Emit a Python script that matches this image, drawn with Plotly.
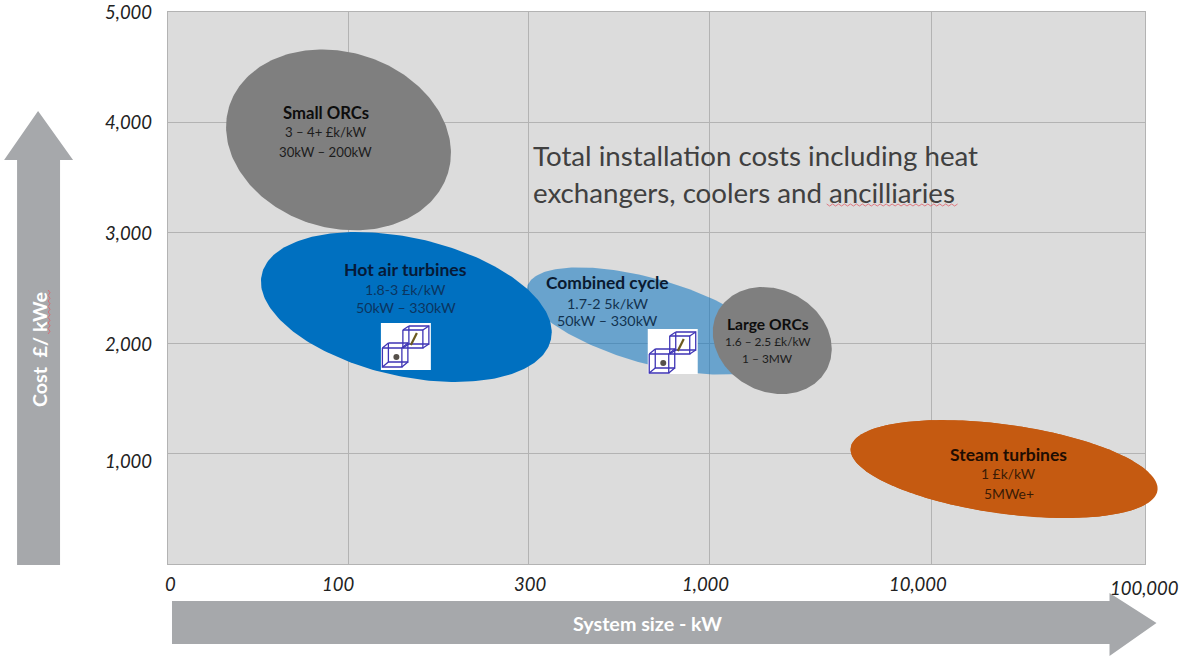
import numpy as np
import plotly.graph_objects as go

# ---- data ----
x_tick_labels = ["0", "100", "300", "1,000", "10,000", "100,000"]
x_tick_pos = [0, 1, 2, 3, 4.23, 5.41]          # hand-spaced, non-linear size scale
y_tick_labels = ["1,000", "2,000", "3,000", "4,000", "5,000"]
y_tick_vals = [1000, 2000, 3000, 4000, 5000]

technologies = ["Combined cycle", "Small ORCs", "Hot air turbines", "Large ORCs", "Steam turbines"]
size_centre = [2.670, 0.945, 1.321, 3.349, 4.634]
cost_centre = [2201, 3841, 2328, 2024, 860]
cost_lines = ["1.7-2 5k/kW", "3 – 4+ £k/kW", "1.8-3 £k/kW", "1.6 – 2.5 £k/kW", "1 £k/kW"]
size_lines = ["50kW – 330kW", "30kW – 200kW", "50kW – 330kW", "1 – 3MW", "5MWe+"]

# ---- geometry and style ----
W, H = 1183, 658
L, R, T, B = 168, 1145.5, 12, 564
X_MAX, Y_MAX = 5.415, 5000
ux, uy = (R - L) / X_MAX, (B - T) / Y_MAX

major_px = [127.3, 114.4, 148.3, 61.7, 154.9]
minor_px = [42.5, 88.0, 69.2, 51.0, 44.5]
tilt_deg = [15.8, 16.6, 12.7, 27.9, 7.9]
fills = ["rgba(0,112,192,0.52)", "#7f7f7f", "#0070c0", "#7f7f7f", "#c55a11"]
label_px = [(608, 282, 303, 321), (326, 113, 132, 152), (406, 269, 289, 308),
            (768, 324, 341, 358), (1009, 454, 474, 493)]
label_sub_colour = ["#12324f", "#1c1c1c", "#0b3560", "#1c1c1c", "#3a1a05"]
label_name_colour = ["#0a1a30", "#0d0d0d", "#061a38", "#0d0d0d", "#1f0d02"]
name_size = [17.4, 16.7, 17.6, 15.6, 17.5]
sub_size = [14.3, 13.2, 14.2, 11.9, 13.9]

ARROW = "#a6a8ab"
FONT = "Lato"


def px(x, y):
    """Page pixels to paper coordinates."""
    return (x - L) / (R - L), (B - y) / (B - T)


def path(points, close=True):
    parts = []
    for i, (x, y) in enumerate(points):
        a, b = px(x, y)
        parts.append(("M" if i == 0 else "L") + f"{a:.5f},{b:.5f}")
    return " ".join(parts) + (" Z" if close else "")


shapes = []


def poly(points, colour):
    shapes.append(dict(type="path", xref="paper", yref="paper", path=path(points),
                       fillcolor=colour, line=dict(width=0), layer="above"))


def lines(points, colour, width=1.1):
    shapes.append(dict(type="path", xref="paper", yref="paper", path=path(points, close=False),
                       line=dict(color=colour, width=width), layer="above"))


fig = go.Figure()
t = np.linspace(0, 2 * np.pi, 241)
for name, cx, cy, a, b, th, col in zip(technologies, size_centre, cost_centre, major_px, minor_px, tilt_deg, fills):
    th = np.radians(th)
    dx = a * np.cos(t) * np.cos(th) - b * np.sin(t) * np.sin(th)
    dy = a * np.cos(t) * np.sin(th) + b * np.sin(t) * np.cos(th)
    xs, ys = cx + dx / ux, cy - dy / uy
    fig.add_trace(go.Scatter(x=xs, y=ys, mode="lines", name=name,
                             fill="toself", fillcolor=col, line=dict(width=0),
                             hoverinfo="name", cliponaxis=False, showlegend=False))
    if xs.max() > X_MAX:
        # the oval runs past the plot frame in the reference; traces are clipped there
        poly([(L + x * ux, B - y * uy) for x, y in zip(xs, ys)], col)

# axis arrows
poly([(17, 565), (17, 160), (4, 160), (38, 111), (73, 160), (60, 160), (60, 565)], ARROW)
poly([(172, 601), (1110, 601), (1110, 593), (1157, 623), (1110, 656), (1110, 644), (172, 644)], ARROW)


def zigzag(x0, y0, x1, y1, n):
    pts = []
    for i in range(n + 1):
        f = i / n
        s = 1 if i % 2 else -1
        if abs(x1 - x0) > abs(y1 - y0):
            pts.append((x0 + (x1 - x0) * f, y0 + s))
        else:
            pts.append((x0 + s, y0 + (y1 - y0) * f))
    return pts


lines(zigzag(827, 205, 958, 205, 44), "#e0606a", 0.8)
lines(zigzag(49, 290, 49, 334, 16), "#e0606a", 0.8)


def cube(ox, oy, x0, y0, x1, y1, dx, dy):
    fx0, fy0, fx1, fy1 = ox + x0, oy + y0, ox + x1, oy + y1
    C = "#3f35b5"
    lines([(fx0, fy0), (fx1, fy0), (fx1, fy1), (fx0, fy1), (fx0, fy0)], C, 1.3)
    lines([(fx0 + dx, fy0 - dy), (fx1 + dx, fy0 - dy), (fx1 + dx, fy1 - dy), (fx0 + dx, fy1 - dy), (fx0 + dx, fy0 - dy)], C, 1.3)
    for px_, py_ in [(fx0, fy0), (fx1, fy0), (fx1, fy1), (fx0, fy1)]:
        lines([(px_, py_), (px_ + dx, py_ - dy)], C, 1.3)


def icon(ox, oy, w, h):
    poly([(ox, oy), (ox + w, oy), (ox + w, oy + h), (ox, oy + h)], "#ffffff")
    cube(ox, oy, 1.5, 25, 21, 44, 6, 5)
    cube(ox, oy, 22, 7, 42, 25, 6, 4)
    lines([(ox + 30, oy + 22), (ox + 36, oy + 10)], "#6b5a20", 2.2)
    shapes.append(dict(type="circle", xref="paper", yref="paper",
                       x0=px(ox + 12.5, 0)[0], x1=px(ox + 18.5, 0)[0],
                       y0=px(0, oy + 37)[1], y1=px(0, oy + 31)[1],
                       fillcolor="#55504a", line=dict(width=0), layer="above"))


icon(381, 323, 50, 47)
icon(648, 329, 50, 45)

anns = []


def text(x, y, s, size, colour="#111111", bold=False, italic=False, anchor="center", angle=0):
    a, b = px(x, y)
    s2 = f"<b>{s}</b>" if bold else s
    s2 = f"<i>{s2}</i>" if italic else s2
    anns.append(dict(xref="paper", yref="paper", x=a, y=b, text=s2, showarrow=False,
                     xanchor=anchor, yanchor="middle", textangle=angle,
                     font=dict(family=FONT, size=size, color=colour)))


for name, c, s, (lx, y0, y1, y2), nc, sc, ns, ss in zip(technologies, cost_lines, size_lines, label_px,
                                                        label_name_colour, label_sub_colour, name_size, sub_size):
    text(lx, y0, name, ns, nc, bold=True)
    text(lx, y1, c, ss, sc)
    text(lx, y2, s, ss, sc)

text(531, 155, "Total installation costs including heat", 27.7, "#404040", anchor="left")
text(531, 192, "exchangers, coolers and ancilliaries", 27.7, "#404040", anchor="left")
text(39, 350, "Cost  £/ kWe", 19.7, "#ffffff", bold=True, angle=-90)
text(648, 623, "System size - kW", 19.7, "#ffffff", bold=True)

# hand-placed tick labels, anchored on the axis scales
x_label_shift = [2, -10, 1, -4, -13, 0]
x_label_y = [584, 584, 584, 584, 584, 588]
for lab, pos, sh, yy in zip(x_tick_labels, x_tick_pos, x_label_shift, x_label_y):
    anns.append(dict(xref="x", yref="paper", x=pos, y=px(0, yy)[1], xshift=sh, text=f"<i>{lab}</i>",
                     showarrow=False, xanchor="center", yanchor="middle",
                     font=dict(family=FONT, size=18.5, color="#222222")))
y_label_shift = [7.5, 0.5, 0.5, 0, 0]
for lab, val, sh in zip(y_tick_labels, y_tick_vals, y_label_shift):
    anns.append(dict(xref="paper", yref="y", x=px(154, 0)[0], y=val, yshift=-sh, text=f"<i>{lab}</i>",
                     showarrow=False, xanchor="right", yanchor="middle",
                     font=dict(family=FONT, size=18.5, color="#222222")))

axis = dict(showgrid=True, gridcolor="#b3b3b3", gridwidth=1, zeroline=False, showticklabels=False,
            ticks="", showline=True, linecolor="#b3b3b3", linewidth=1, mirror=True, fixedrange=True)
fig.update_layout(
    width=W, height=H, autosize=False, showlegend=False,
    margin=dict(l=L, r=W - R, t=T, b=H - B, pad=0),
    paper_bgcolor="#ffffff", plot_bgcolor="#dcdcdc",
    xaxis=dict(axis, range=[0, X_MAX], tickmode="array", tickvals=x_tick_pos),
    yaxis=dict(axis, range=[0, Y_MAX], tickmode="array", tickvals=y_tick_vals),
    shapes=shapes, annotations=anns,
)
fig.write_html("out.html", config={"displayModeBar": False},
               post_script="document.body.style.margin='0';document.body.style.overflow='hidden';")
